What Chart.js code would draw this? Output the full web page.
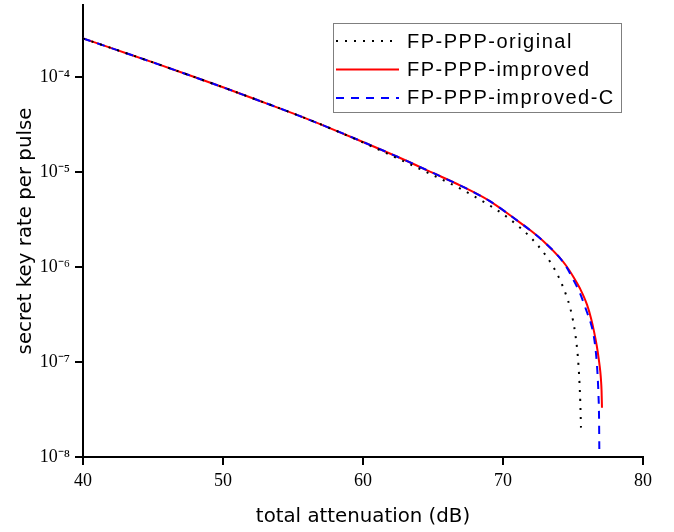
<!DOCTYPE html>
<html><head><meta charset="utf-8">
<script src="https://cdn.jsdelivr.net/npm/chart.js@4.4.1/dist/chart.umd.min.js"></script>
<style>html,body{margin:0;padding:0;background:#fff;} canvas{display:block;}</style>
</head><body>
<canvas id="c" width="674" height="532"></canvas>
<script>
const seriesNames = ['FP-PPP-original', 'FP-PPP-improved', 'FP-PPP-improved-C'];

const xOriginal = [40, 42.5, 45, 47.5, 50, 52.5, 55, 57.5, 60, 62.5, 65, 67, 68.5, 70, 71, 72, 73, 73.5, 74, 74.5, 74.8, 75.0, 75.15, 75.3, 75.4, 75.47, 75.52, 75.57];
const yOriginal = [2.576e-4, 1.928e-4, 1.44e-4, 1.067e-4, 7.87e-5, 5.75e-5, 4.18e-5, 2.98e-5, 2.065e-5, 1.396e-5, 9.33e-6, 6.68e-6, 5.01e-6, 3.63e-6, 2.786e-6, 2.042e-6, 1.365e-6, 1.059e-6, 7.76e-7, 5.13e-7, 3.72e-7, 2.75e-7, 2.04e-7, 1.349e-7, 8.91e-8, 5.75e-8, 3.80e-8, 2.04e-8];

const xImproved = [40, 42.5, 45, 47.5, 50, 52.5, 55, 57.5, 60, 62.5, 65, 67, 69, 71, 72, 73, 74, 74.5, 75, 75.5, 76, 76.3, 76.5, 76.7, 76.85, 76.95, 77.0, 77.04, 77.07];
const yImproved = [2.576e-4, 1.928e-4, 1.44e-4, 1.067e-4, 7.87e-5, 5.75e-5, 4.18e-5, 2.98e-5, 2.09e-5, 1.45e-5, 9.85e-6, 7.20e-6, 5.03e-6, 3.115e-6, 2.418e-6, 1.813e-6, 1.284e-6, 1.043e-6, 8.04e-7, 5.96e-7, 4.03e-7, 2.85e-7, 2.11e-7, 1.479e-7, 1.047e-7, 7.94e-8, 6.46e-8, 5.01e-8, 3.31e-8];

const xImprovedC = [40, 42.5, 45, 47.5, 50, 52.5, 55, 57.5, 60, 62.5, 65, 67, 69, 71, 72, 73, 74, 74.5, 75, 75.5, 76, 76.3, 76.5, 76.65, 76.75, 76.82, 76.86, 76.88];
const yImprovedC = [2.576e-4, 1.928e-4, 1.44e-4, 1.067e-4, 7.87e-5, 5.75e-5, 4.18e-5, 2.98e-5, 2.09e-5, 1.45e-5, 9.85e-6, 7.20e-6, 5.03e-6, 3.115e-6, 2.418e-6, 1.813e-6, 1.284e-6, 1.023e-6, 7.50e-7, 5.31e-7, 3.35e-7, 2.48e-7, 1.82e-7, 1.202e-7, 7.59e-8, 4.47e-8, 2.63e-8, 1.20e-8];

const xTickLabels = ['40', '50', '60', '70', '80'];
const yRange = [1e-8, 5.8e-4];
const xRange = [40, 80];
const xAxisTitle = 'total attenuation (dB)';
const yAxisTitle = 'secret key rate per pulse';

const SUP = {'-': '\u207B', '0': '\u2070', '1': '\u00B9', '2': '\u00B2', '3': '\u00B3', '4': '\u2074', '5': '\u2075', '6': '\u2076', '7': '\u2077', '8': '\u2078', '9': '\u2079'};
function toSup(s) { return String(s).split('').map(c => SUP[c] || c).join(''); }
function decadeInfo(v) {
  const e = Math.floor(Math.log10(v) + 1e-9);
  const m = v / Math.pow(10, e);
  return { e, m };
}
function pts(xs, ys) { return xs.map((x, i) => ({ x, y: ys[i] })); }

const tickMarks = {
  id: 'tickMarks',
  afterDraw(chart) {
    const ctx = chart.ctx, a = chart.chartArea;
    const xs = chart.scales.x, ys = chart.scales.y;
    ctx.save();
    ctx.strokeStyle = '#000';
    ctx.lineWidth = 2;
    ys.ticks.forEach(t => {
      const { m } = decadeInfo(t.value);
      const r = Math.round(m);
      if (Math.abs(m - r) > 1e-6) return;
      const major = (r === 1 || r === 10);
      const len = major ? 8 : 5;
      const py = Math.round(ys.getPixelForValue(t.value));
      ctx.beginPath(); ctx.moveTo(a.left, py); ctx.lineTo(a.left - len, py); ctx.stroke();
    });
    xs.ticks.forEach(t => {
      const major = Math.abs(t.value % 10) < 1e-9;
      const len = major ? 8 : 5;
      const px = Math.round(xs.getPixelForValue(t.value));
      ctx.beginPath(); ctx.moveTo(px, a.bottom); ctx.lineTo(px, a.bottom + len); ctx.stroke();
    });
    ctx.restore();
  }
};

const legendBox = {
  id: 'legendBox',
  afterDraw(chart) {
    const ctx = chart.ctx;
    ctx.save();
    ctx.strokeStyle = '#7f7f7f';
    ctx.lineWidth = 1;
    ctx.strokeRect(333.5, 23.5, 288, 89);
    const rows = [41, 69.5, 98];
    const bases = [48, 76, 103.5];
    seriesNames.forEach((name, i) => {
      const ds = chart.data.datasets[i];
      const y = rows[i];
      ctx.beginPath();
      ctx.strokeStyle = ds.borderColor;
      ctx.lineWidth = ds.borderWidth;
      ctx.setLineDash(ds.borderDash || []);
      ctx.moveTo(336, y); ctx.lineTo(399, y); ctx.stroke();
      ctx.setLineDash([]);
      ctx.fillStyle = '#000';
      ctx.font = '20px "Liberation Sans", Arial, sans-serif';
      ctx.letterSpacing = '1.5px';
      ctx.textBaseline = 'alphabetic';
      ctx.textAlign = 'left';
      ctx.fillText(name, 407, bases[i]);
      ctx.letterSpacing = '0px';
    });
    ctx.restore();
  }
};

new Chart(document.getElementById('c'), {
  type: 'line',
  data: {
    datasets: [
      { label: seriesNames[0], data: pts(xOriginal, yOriginal), borderColor: '#000000', borderWidth: 2, borderDash: [2, 7], pointRadius: 0, fill: false, cubicInterpolationMode: 'monotone', order: 0 },
      { label: seriesNames[1], data: pts(xImproved, yImproved), borderColor: '#ff0000', borderWidth: 2, pointRadius: 0, fill: false, cubicInterpolationMode: 'monotone', order: 2 },
      { label: seriesNames[2], data: pts(xImprovedC, yImprovedC), borderColor: '#0000ff', borderWidth: 2, borderDash: [8, 7], pointRadius: 0, fill: false, cubicInterpolationMode: 'monotone', order: 1 }
    ]
  },
  options: {
    responsive: false,
    animation: false,
    devicePixelRatio: 1,
    layout: { padding: { top: 5, right: 31, left: 0, bottom: 0 } },
    plugins: { legend: { display: false }, tooltip: { enabled: false } },
    scales: {
      x: {
        type: 'linear',
        min: xRange[0], max: xRange[1],
        afterFit(s) { s.height = 75; s.paddingTop = 0; s.paddingBottom = 0; },
        grid: { display: false, drawTicks: true, tickLength: 8 },
        border: { display: true, color: '#000', width: 2 },
        ticks: {
          stepSize: 5, autoSkip: false, maxRotation: 0, padding: 5,
          color: '#000', font: { family: '"Liberation Serif", "Times New Roman", serif', size: 18 },
          callback: (v) => (xTickLabels.includes(String(v)) ? String(v) : null)
        },
        title: { display: true, text: xAxisTitle, color: '#000', font: { family: '"DejaVu Sans", sans-serif', size: 19.8 }, padding: { top: 0, bottom: 3 } }
      },
      y: {
        type: 'logarithmic',
        min: yRange[0], max: yRange[1],
        afterFit(s) { s.width = 83; s.paddingTop = 0; s.paddingBottom = 0; },
        grid: { display: false, drawTicks: true, tickLength: 8 },
        border: { display: true, color: '#000', width: 2 },
        ticks: {
          autoSkip: false, padding: 5, color: '#000',
          font: { family: '"Liberation Serif", "Times New Roman", serif', size: 18 },
          callback: (v) => {
            const { e, m } = decadeInfo(v);
            const r = Math.round(m);
            if (Math.abs(m - r) > 1e-6) return null;
            if (r === 1) return '10' + toSup(e);
            if (r === 10) return '10' + toSup(e + 1);
            return null;
          }
        },
        title: { display: true, text: yAxisTitle, color: '#000', font: { family: '"DejaVu Sans", sans-serif', size: 19.8 }, padding: { top: 14, bottom: 0 } }
      }
    }
  },
  plugins: [tickMarks, legendBox]
});
</script>
</body></html>
